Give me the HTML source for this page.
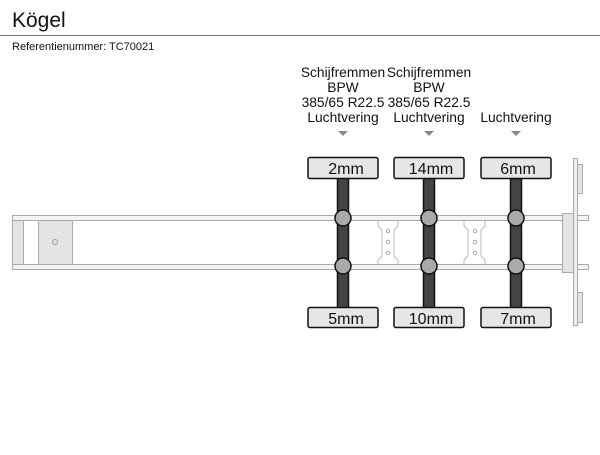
<!DOCTYPE html>
<html><head><meta charset="utf-8"><style>
body{margin:0;width:600px;height:450px;background:#fff;overflow:hidden;font-family:"Liberation Sans",sans-serif;}
</style></head><body>
<svg width="600" height="450" xmlns="http://www.w3.org/2000/svg" font-family="Liberation Sans, sans-serif">
<text x="12" y="27" font-size="21" fill="#111">Kögel</text>
<line x1="0" y1="35.5" x2="600" y2="35.5" stroke="#777" stroke-width="1"/>
<text x="12" y="50" font-size="11" fill="#111">Referentienummer: TC70021</text>
<g font-size="13.8" fill="#111" text-anchor="middle">
<text x="343" y="77">Schijfremmen</text><text x="343" y="92">BPW</text><text x="343" y="107">385/65 R22.5</text><text x="343" y="122">Luchtvering</text>
<text x="429" y="77">Schijfremmen</text><text x="429" y="92">BPW</text><text x="429" y="107">385/65 R22.5</text><text x="429" y="122">Luchtvering</text>
<text x="516" y="122">Luchtvering</text>
</g>
<g fill="#888">
<polygon points="338,131 348,131 343,136"/><polygon points="424,131 434,131 429,136"/><polygon points="511,131 521,131 516,136"/>
</g>
<g stroke="#aaa" stroke-width="1" fill="#f4f4f4">
<rect x="12.5" y="215.5" width="576" height="5"/>
<rect x="12.5" y="264.5" width="576" height="5"/>
<rect x="12.5" y="220.5" width="11" height="44" fill="#e4e4e4"/>
<rect x="38.5" y="220.5" width="34" height="44" fill="#e4e4e4"/>
<rect x="562.5" y="213.5" width="11" height="59" fill="#e4e4e4"/>
<rect x="573.5" y="158.5" width="4" height="167" fill="#eee"/>
<rect x="577.5" y="164.5" width="5" height="29" fill="#e4e4e4"/>
<rect x="577.5" y="292.5" width="5" height="30" fill="#e4e4e4"/>
</g>
<circle cx="55" cy="242" r="2.5" fill="none" stroke="#999"/>
<g fill="none" stroke="#bbb" stroke-width="1">
<path d="M378,221 L378,226 L382,230 L382,256 L378,260 L378,264 M398,221 L398,226 L394,230 L394,256 L398,260 L398,264"/>
<path d="M464,221 L464,226 L468,230 L468,256 L464,260 L464,264 M485,221 L485,226 L481,230 L481,256 L485,260 L485,264"/>
</g>
<g fill="none" stroke="#aaa">
<circle cx="388" cy="231" r="1.7"/><circle cx="388" cy="242" r="1.7"/><circle cx="388" cy="253" r="1.7"/>
<circle cx="475" cy="231" r="1.7"/><circle cx="475" cy="242" r="1.7"/><circle cx="475" cy="253" r="1.7"/>
</g>
<g stroke="#111" stroke-width="1.5">
<rect x="337.5" y="178" width="11" height="131" fill="#444"/>
<rect x="423.5" y="178" width="11" height="131" fill="#444"/>
<rect x="510.5" y="178" width="11" height="131" fill="#444"/>
<g fill="#aaa">
<circle cx="343" cy="218" r="8"/><circle cx="343" cy="266" r="8"/>
<circle cx="429" cy="218" r="8"/><circle cx="429" cy="266" r="8"/>
<circle cx="516" cy="218" r="8"/><circle cx="516" cy="266" r="8"/>
</g>
<g fill="#e6e6e6">
<rect x="308" y="157.5" width="70" height="21" rx="2"/>
<rect x="394" y="157.5" width="70" height="21" rx="2"/>
<rect x="481" y="157.5" width="70" height="21" rx="2"/>
<rect x="308" y="307.5" width="70" height="20" rx="2"/>
<rect x="394" y="307.5" width="70" height="20" rx="2"/>
<rect x="481" y="307.5" width="70" height="20" rx="2"/>
</g>
</g>
<g font-size="16" fill="#111" text-anchor="middle">
<text x="346" y="174">2mm</text><text x="431" y="174">14mm</text><text x="518" y="174">6mm</text>
<text x="346" y="324">5mm</text><text x="431" y="324">10mm</text><text x="518" y="324">7mm</text>
</g>
</svg>
</body></html>
